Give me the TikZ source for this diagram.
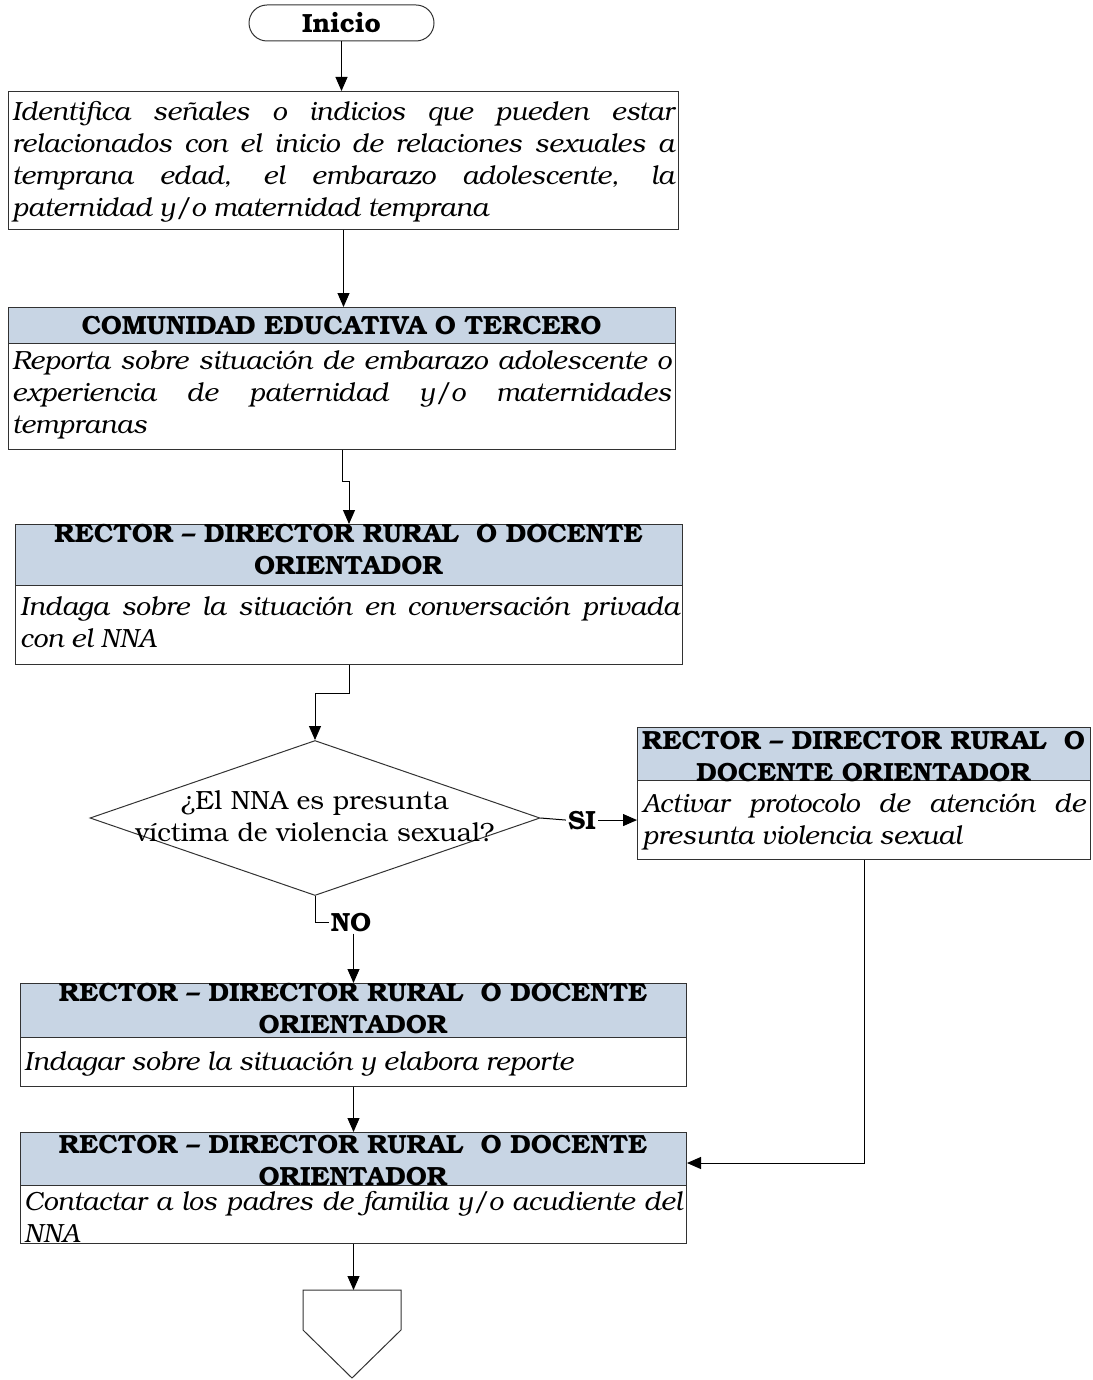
\documentclass[tikz,border=0pt]{standalone}
\usepackage{fontspec}
\setmainfont{TeX Gyre Bonum}
\usetikzlibrary{arrows.meta,shapes.geometric,calc}
\definecolor{hdr}{RGB}{200,213,228}
\definecolor{ln}{RGB}{50,50,50}
\hyphenpenalty=10000 \exhyphenpenalty=10000 \tolerance=10000
\newcommand\fsz{\fontsize{26.3}{32}\selectfont}
\begin{document}
\begin{tikzpicture}[x=1pt,y=-1pt,
  frame/.style={draw=ln, line width=1pt, anchor=north west, inner sep=0pt, fill=white},
  hdrbox/.style={frame, fill=hdr},
  bodytxt/.style={anchor=base west, inner sep=0pt, align=justify, font=\fsz\itshape},
  hdrtxt/.style={anchor=base, inner sep=0pt, align=center, font=\fsz\bfseries},
  conn/.style={draw=black, line width=1pt},
  arr/.style={conn, -{Triangle[width=12pt,length=14pt]}},
]
\useasboundingbox (0,0) rectangle (1092,1380);

% Inicio
\node[draw=ln, line width=1pt, rounded corners=18pt, minimum width=185, minimum height=36, inner sep=0pt, font=\fsz\bfseries] (start) at (341.5,23) {Inicio};

% Box 1
\node[frame, minimum width=670, minimum height=138] (b1) at (8,91) {};
\node[bodytxt, text width=662] (t1) at (12,121) {Identifica señales o indicios que pueden estar\linebreak relacionados con el inicio de relaciones sexuales a\linebreak temprana edad, el embarazo adolescente, la\linebreak paternidad y/o maternidad temprana};

% Box 2
\node[frame, minimum width=667, minimum height=142] (b2) at (8,307) {};
\node[hdrbox, minimum width=667, minimum height=36] (b2h) at (8,307) {};
\node[hdrtxt, text width=657] (b2ht) at (341.5,334) {COMUNIDAD EDUCATIVA O TERCERO};
\node[bodytxt, text width=659] (t2) at (12,369) {Reporta sobre situación de embarazo adolescente o\linebreak experiencia de paternidad y/o maternidades\linebreak tempranas};

% Box 3
\node[frame, minimum width=667, minimum height=140] (b3) at (15,524) {};
\node[hdrbox, minimum width=667, minimum height=61] (b3h) at (15,524) {};
\node[hdrtxt, text width=657] (b3ht) at (348.5,542) {RECTOR – DIRECTOR RURAL~ O DOCENTE\\ORIENTADOR};
\node[bodytxt, text width=659] (t3) at (20,615) {Indaga sobre la situación en conversación privada\linebreak con el NNA};

% Decision
\node[draw=ln, line width=1pt, diamond, minimum width=450, minimum height=155, inner sep=0pt] (dia) at (315,818) {};
\node[anchor=base, align=center, inner sep=0pt, text width=430, font=\fsz] (diat) at (315,809) {¿El NNA es presunta\\víctima de violencia sexual?};

% Box 4
\node[frame, minimum width=453, minimum height=132] (b4) at (637,727) {};
\node[hdrbox, minimum width=453, minimum height=53] (b4h) at (637,727) {};
\node[hdrtxt, text width=480] (b4ht) at (863.5,749) {RECTOR – DIRECTOR RURAL~ O\\DOCENTE ORIENTADOR};
\node[bodytxt, text width=443] (t4) at (642,812) {Activar protocolo de atención de\linebreak presunta violencia sexual};

% Box 5
\node[frame, minimum width=666, minimum height=103] (b5) at (20,983) {};
\node[hdrbox, minimum width=666, minimum height=54] (b5h) at (20,983) {};
\node[hdrtxt, text width=656] (b5ht) at (353,1001) {RECTOR – DIRECTOR RURAL~ O DOCENTE\\ORIENTADOR};
\node[bodytxt, text width=658] (t5) at (24,1070) {Indagar sobre la situación y elabora reporte};

% Box 6
\node[frame, minimum width=666, minimum height=111] (b6) at (20,1132) {};
\node[hdrbox, minimum width=666, minimum height=53] (b6h) at (20,1132) {};
\node[hdrtxt, text width=656] (b6ht) at (353,1153) {RECTOR – DIRECTOR RURAL~ O DOCENTE\\ORIENTADOR};
\node[bodytxt, text width=658] (t6) at (24,1210) {Contactar a los padres de familia y/o acudiente del\linebreak NNA};

% Off-page connector
\coordinate (pt) at (352,1290);
\draw[draw=ln, line width=1pt] (303,1290) -- (401,1290) -- (401,1330) -- (352,1378) -- (303,1330) -- cycle;

% Labels
\node[font=\fsz\bfseries, inner sep=2pt, anchor=base] (si) at (582,829) {SI};
\node[font=\fsz\bfseries, inner sep=2pt, anchor=base] (no) at (351,931) {NO};

% Connectors
\draw[arr] (start.south) -- (start.south |- b1.north);
\draw[arr] (b1.south) -- (b1.south |- b2.north);
\draw[arr] (b2.south) -- ++(0,31) -| (b3.north);
\draw[arr] (b3.south) -- ++(0,28) -| (dia.north);
\draw[conn] (dia.east) -- (si.west);
\draw[arr] (si.east) -- (si.east -| b4.west);
\draw[conn] (dia.south) |- (no.west);
\draw[arr] (no.south -| b5.north) -- (b5.north);
\draw[arr] (b5.south) -- (b6.north);
\draw[arr] (b4.south) |- ($(b6.north east)+(0,31)$);
\draw[arr] (b6.south) -- (b6.south |- pt);
\end{tikzpicture}
\end{document}
